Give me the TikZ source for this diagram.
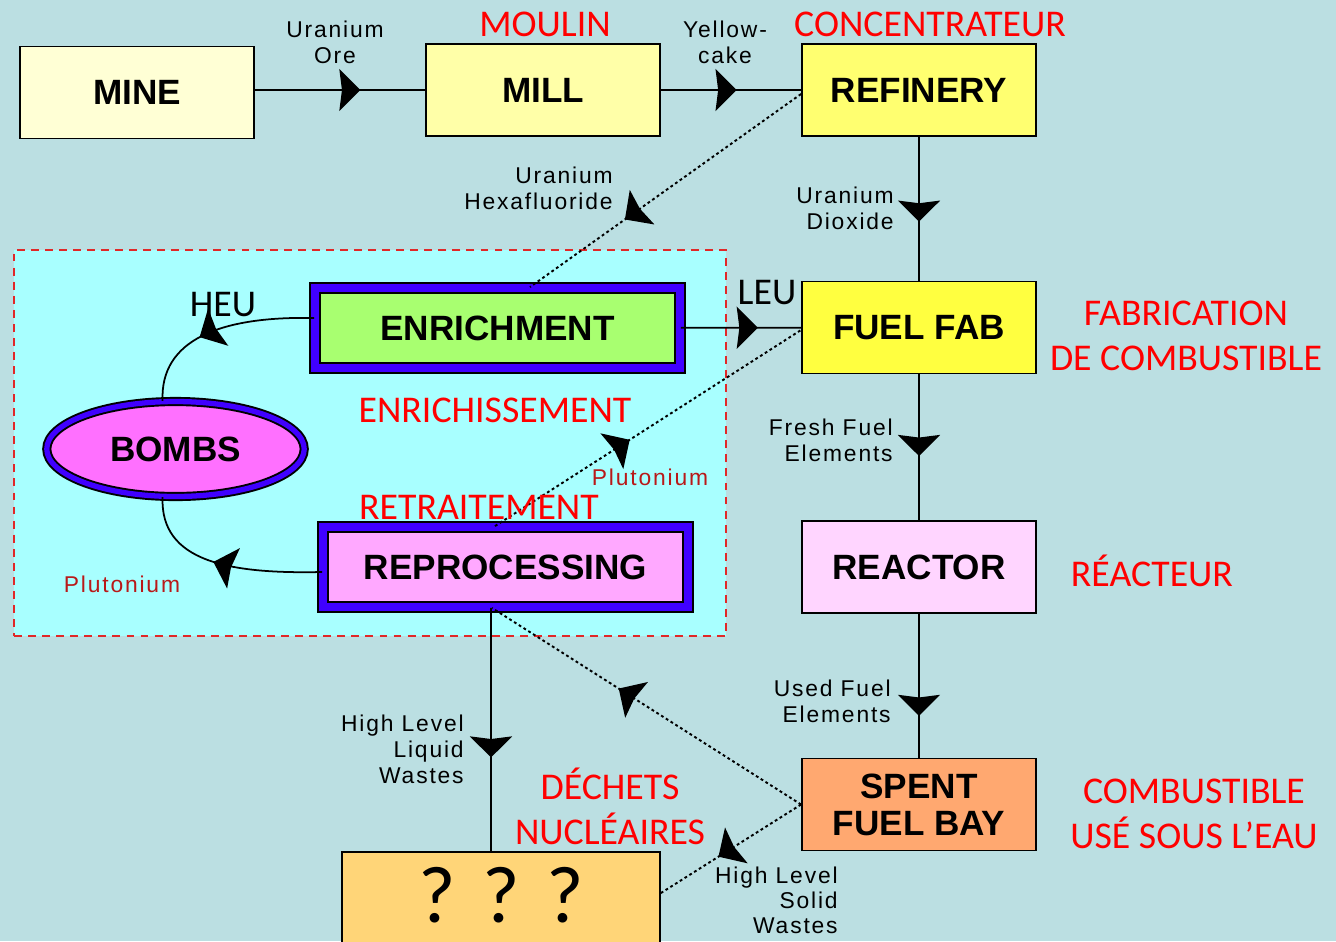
\documentclass[tikz,border=0pt]{standalone}
\usepackage{fontspec}
\setmainfont{Liberation Sans}
\newfontfamily\frfont{Carlito}
\newfontfamily\lblfont{Liberation Sans}[LetterSpace=8.0]
\usetikzlibrary{arrows.meta,shapes.geometric,decorations.markings}
\definecolor{bgcol}{RGB}{187,223,226}
\definecolor{zonecol}{RGB}{168,255,255}
\definecolor{zonered}{RGB}{225,40,40}
\definecolor{minecol}{RGB}{255,255,213}
\definecolor{millcol}{RGB}{255,255,168}
\definecolor{refcol}{RGB}{255,255,112}
\definecolor{fabcol}{RGB}{255,255,64}
\definecolor{reaccol}{RGB}{255,213,255}
\definecolor{spentcol}{RGB}{255,168,112}
\definecolor{enrcol}{RGB}{168,255,112}
\definecolor{repcol}{RGB}{255,168,255}
\definecolor{bombcol}{RGB}{255,112,255}
\definecolor{wastecol}{RGB}{255,213,120}
\definecolor{bandcol}{RGB}{64,0,255}
\definecolor{pucol}{RGB}{185,25,25}
\definecolor{frred}{RGB}{255,0,0}

\begin{document}
\begin{tikzpicture}[x=0.02cm,y=-0.02cm,
  plant node/.style={rectangle,draw,line width=1.1pt,minimum width=4.68cm,minimum height=1.84cm,
    align=center,font=\bfseries\fontsize{20}{21}\selectfont},
  ring node/.style={draw=black,double=bandcol,double distance=4.5pt,line width=1.1pt,
    font=\bfseries\fontsize{20}{21}\selectfont},
  zone node/.style={draw=zonered,fill=zonecol,line width=1.1pt,dash pattern=on 4.5pt off 3.5pt,
    minimum width=14.24cm,minimum height=7.72cm},
  label node/.style={inner sep=0pt,align=right,font=\lblfont\fontsize{13}{14.7}\selectfont},
  french node/.style={inner sep=0pt,align=center,text=frred,font=\frfont\fontsize{21.5}{25.5}\selectfont},
  flow/.style={postaction={decorate,decoration={markings,
    mark=at position #1 with {\arrow{Stealth[length=12pt,width=24pt,inset=1.5pt]}}}}},
  link/.style={line width=1pt},
  dotlink/.style={line width=1.1pt,dash pattern=on 1.6pt off 1.6pt}]

  \useasboundingbox (0,0) rectangle (1336,941);
  \clip (0,0) rectangle (1336,941);
  \fill[bgcol] (0,0) rectangle (1336,941);

  \node[zone node] (zone) at (370,443) {};

  \node[plant node,fill=minecol] (mine) at (137,92.5) {MINE};
  \node[plant node,fill=millcol] (mill) at (543,90) {MILL};
  \node[plant node,fill=refcol] (refinery) at (919,90) {REFINERY};
  \node[plant node,fill=fabcol] (fuelfab) at (919,327.5) {FUEL FAB};
  \node[plant node,fill=reaccol] (reactor) at (919,567) {REACTOR};
  \node[plant node,fill=spentcol] (spent) at (919,804.5) {SPENT\\FUEL BAY};
  \node[plant node,fill=wastecol,minimum width=6.36cm,minimum height=2.16cm,text depth=0.44cm,
    font=\frfont\fontsize{46}{48}\selectfont] (waste) at (501,906) {?\hspace{0.33em}?\hspace{0.33em}?};

  \node[ring node,fill=enrcol,minimum width=7.3cm,minimum height=1.6cm] (enrich) at (497.5,328) {ENRICHMENT};
  \node[ring node,fill=repcol,minimum width=7.3cm,minimum height=1.6cm] (reproc) at (505.5,567) {REPROCESSING};
  \node[ring node,ellipse,fill=bombcol,inner sep=0pt,double distance=3pt,minimum width=5.15cm,minimum height=1.9cm] (bombs) at (175.5,449) {BOMBS};

  \draw[link,flow=0.62] (mine.east |- mill.west) -- (mill.west);
  \draw[link,flow=0.54] (mill) -- (refinery);
  \draw[link,flow=0.59] (refinery) -- (fuelfab);
  \draw[link,flow=0.56] (fuelfab) -- (reactor);
  \draw[link,flow=0.71] (reactor) -- (spent);
  \draw[link,flow=0.64] (enrich) -- (fuelfab);
  \draw[link,flow=0.615] ([xshift=-0.29cm]reproc.south) -- ([xshift=-0.2cm]waste.north);
  \draw[dotlink,flow=0.65] ([yshift=-0.08cm]refinery.west) -- ([xshift=0.65cm]enrich.north);
  \draw[dotlink,flow=0.44] ([xshift=-0.21cm]reproc.north) -- ([yshift=-0.05cm]fuelfab.west);
  \draw[dotlink,flow=0.59] (spent.west) -- ([xshift=-0.27cm]reproc.south);
  \draw[dotlink,flow=0.59] (spent.west) -- ([yshift=0.26cm]waste.east);
  \draw[link,flow=0.6] ([yshift=0.2cm]enrich.west) .. controls (220,316) and (160,340) .. (bombs.105);
  \draw[link,flow=0.55] ([yshift=-0.1cm]reproc.west) .. controls (230,574) and (160,562) .. (bombs.255);

  \node[label node,align=center] (ore) at (335,42) {Uranium\\Ore};
  \node[label node,align=center] (cake) at (725,42) {Yellow-\\cake};
  \node[label node,anchor=east] (hexa) at (613,188) {Uranium\\Hexafluoride};
  \node[label node,anchor=east] (dioxide) at (894,208) {Uranium\\Dioxide};
  \node[label node,anchor=east] (fresh) at (893,440) {Fresh Fuel\\Elements};
  \node[label node,anchor=east] (used) at (891,701) {Used Fuel\\Elements};
  \node[label node,anchor=east] (liquid) at (464,749) {High Level\\Liquid\\Wastes};
  \node[label node,anchor=east,font=\lblfont\fontsize{13}{14.2}\selectfont] (solid) at (838,900) {High Level\\Solid\\Wastes};
  \node[label node,text=pucol] (pu1) at (650,477) {Plutonium};
  \node[label node,text=pucol] (pu2) at (122,584) {Plutonium};

  \node[french node,text=black] (heu) at (223,305) {HEU};
  \node[french node,text=black] (leu) at (767,293) {LEU};
  \node[french node] (moulin) at (545,24) {MOULIN};
  \node[french node] (concentr) at (930,24) {CONCENTRATEUR};
  \node[french node] (fabric) at (1186,336) {FABRICATION\\DE COMBUSTIBLE};
  \node[french node] (enrichfr) at (495,410) {ENRICHISSEMENT};
  \node[french node] (retrait) at (479,507) {RETRAITEMENT};
  \node[french node] (reacfr) at (1152,571) {RÉACTEUR};
  \node[french node] (dechets) at (610,806) {DÉCHETS\\NUCLÉAIRES};
  \node[french node] (usesous) at (1194,814) {COMBUSTIBLE\\USÉ SOUS L’EAU};
\end{tikzpicture}
\end{document}
